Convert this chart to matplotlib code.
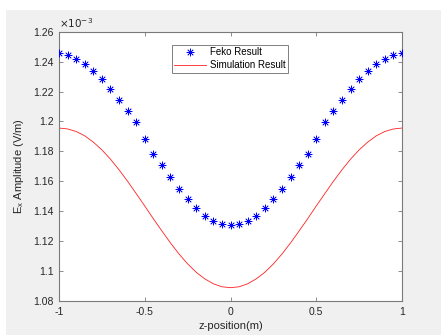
import matplotlib
matplotlib.use("Agg")
import matplotlib.pyplot as plt
from matplotlib.patches import Rectangle

# z positions (m)
z_feko = [-1.00, -0.95, -0.90, -0.85, -0.80, -0.75, -0.70, -0.65, -0.60, -0.55,
          -0.50, -0.45, -0.40, -0.35, -0.30, -0.25, -0.20, -0.15, -0.10, -0.05,
          0.00, 0.05, 0.10, 0.15, 0.20, 0.25, 0.30, 0.35, 0.40, 0.45,
          0.50, 0.55, 0.60, 0.65, 0.70, 0.75, 0.80, 0.85, 0.90, 0.95, 1.00]
# Feko result, Ex amplitude (x 1e-3 V/m)
feko = [1.2458, 1.2442, 1.2415, 1.2382, 1.2335, 1.2282, 1.2217, 1.2143, 1.2068, 1.1996,
        1.1884, 1.1784, 1.1707, 1.1627, 1.1549, 1.1480, 1.1420, 1.1368, 1.1335, 1.1313,
        1.1306, 1.1313, 1.1335, 1.1368, 1.1420, 1.1480, 1.1549, 1.1627, 1.1707, 1.1784,
        1.1884, 1.1996, 1.2068, 1.2143, 1.2217, 1.2282, 1.2335, 1.2382, 1.2415, 1.2442, 1.2458]

z_sim = z_feko
# Simulation result, Ex amplitude (x 1e-3 V/m)
sim = [1.1956, 1.1950, 1.1933, 1.1904, 1.1862, 1.1810, 1.1748, 1.1677, 1.1600, 1.1518,
       1.1435, 1.1350, 1.1268, 1.1188, 1.1114, 1.1048, 1.0992, 1.0948, 1.0915, 1.0895,
       1.0889, 1.0895, 1.0915, 1.0948, 1.0992, 1.1048, 1.1114, 1.1188, 1.1268, 1.1350,
       1.1435, 1.1518, 1.1600, 1.1677, 1.1748, 1.1810, 1.1862, 1.1904, 1.1933, 1.1950, 1.1956]

xticks = [-1, -0.5, 0, 0.5, 1]
xticklabels = ["-1", "-0.5", "0", "0.5", "1"]
yticks = [1.08, 1.10, 1.12, 1.14, 1.16, 1.18, 1.20, 1.22, 1.24, 1.26]
yticklabels = ["1.08", "1.1", "1.12", "1.14", "1.16", "1.18", "1.2", "1.22", "1.24", "1.26"]

plt.rcParams['font.family'] = ['Liberation Sans', 'DejaVu Sans']

fig = plt.figure(figsize=(4.41, 3.35), dpi=100, facecolor='#f0f0f0')
# white screenshot margins at left and top
fig.patches.append(Rectangle((0, 0), 6/441, 1, transform=fig.transFigure,
                             facecolor='white', edgecolor='none', zorder=-1))
fig.patches.append(Rectangle((0, 1 - 10/335), 1, 10/335, transform=fig.transFigure,
                             facecolor='white', edgecolor='none', zorder=-1))

ax = fig.add_axes([0.1338, 0.1015, 0.7778, 0.8039])
ax.set_facecolor('white')

ax.plot(z_sim, sim, color='#ff2020', lw=0.6, label='Simulation Result', zorder=2)
ax.plot(z_feko, feko, linestyle='none', marker=(8, 2, 0), markersize=5.5,
        markeredgewidth=0.5, color='#0000ff', label='Feko Result', zorder=3)

ax.set_xlim(-1, 1)
ax.set_ylim(1.08, 1.26)
ax.set_xticks(xticks)
ax.set_xticklabels(xticklabels)
ax.set_yticks(yticks)
ax.set_yticklabels(yticklabels)

axcol = '#7a7a7a'
for s in ax.spines.values():
    s.set_color(axcol)
    s.set_linewidth(0.8)
ax.tick_params(direction='in', length=3, width=0.6, color=axcol,
               labelsize=7.5, labelcolor='#262626', top=True, right=True, pad=4)

ax.text(0.0, 1.008, r'$\times10^{-3}$', transform=ax.transAxes, fontsize=7.5,
        color='#262626', ha='left', va='bottom')

ax.set_xlabel('z-position(m)', fontsize=8, color='#262626', labelpad=3)
ax.set_ylabel(r'E$_\mathregular{x}$ Amplitude (V/m)', fontsize=8, color='#262626', labelpad=5)

handles, labels = ax.get_legend_handles_labels()
leg = ax.legend([handles[1], handles[0]], [labels[1], labels[0]],
                loc='upper left', bbox_to_anchor=(0.3286, 0.951),
                fontsize=7, frameon=True, fancybox=False, framealpha=1,
                edgecolor='#808080', borderpad=0.25, handlelength=3.3,
                handletextpad=0.4, labelspacing=0.3, borderaxespad=0)
leg.get_frame().set_linewidth(0.7)

fig.savefig('out.png', dpi=100, facecolor=fig.get_facecolor())
